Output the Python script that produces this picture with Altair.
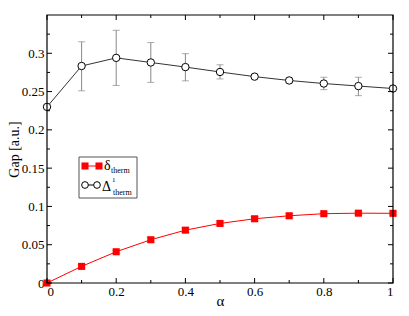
import altair as alt
import pandas as pd

alpha = [0.0, 0.1, 0.2, 0.3, 0.4, 0.5, 0.6, 0.7, 0.8, 0.9, 1.0]
delta_therm = [0.0, 0.0217, 0.0408, 0.0565, 0.069, 0.0778, 0.0839, 0.0878, 0.0905, 0.0912, 0.0910]
delta_err = [0.001, 0.002, 0.002, 0.003, 0.003, 0.003, 0.003, 0.003, 0.002, 0.002, 0.002]
Delta1_therm = [0.230, 0.2834, 0.294, 0.288, 0.282, 0.2756, 0.2695, 0.2645, 0.2605, 0.2572, 0.2540]
Delta1_lo = [0.230, 0.251, 0.258, 0.262, 0.264, 0.2665, 0.2675, 0.2615, 0.2525, 0.2447, 0.2540]
Delta1_hi = [0.230, 0.315, 0.330, 0.314, 0.2995, 0.285, 0.2715, 0.2675, 0.2687, 0.2687, 0.2540]

x_major = [0, 0.2, 0.4, 0.6, 0.8, 1.0]
x_minor = [0.1, 0.3, 0.5, 0.7, 0.9]
y_major = [0, 0.05, 0.1, 0.15, 0.2, 0.25, 0.3]
y_minor = [0.025, 0.075, 0.125, 0.175, 0.225, 0.275, 0.325]

W, H = 346, 268
FONT = "Liberation Serif, Times New Roman, Times, serif"

df = pd.DataFrame({
    "alpha": alpha,
    "d": delta_therm,
    "d_lo": [a - b for a, b in zip(delta_therm, delta_err)],
    "d_hi": [a + b for a, b in zip(delta_therm, delta_err)],
    "D": Delta1_therm,
    "D_lo": Delta1_lo,
    "D_hi": Delta1_hi,
})

xs = alt.Scale(domain=[0, 1], nice=False, zero=False)
ys = alt.Scale(domain=[0, 0.35], nice=False, zero=False)

xenc = alt.X("alpha:Q", scale=xs, axis=alt.Axis(values=x_major, tickSize=0, labelFont=FONT,
             labelFontSize=13, labelColor="black", title="α", titleFont=FONT, titleFontSize=15,
             titleFontWeight="normal", titleColor="black", domain=False, grid=False, labelPadding=2,
             labelBaseline="top", titleY=22, titleBaseline="alphabetic",
             labelExpr="datum.value == 1 ? '1' : (datum.value == 0 ? '0' : datum.label)"))
yaxis = alt.Axis(values=y_major, tickSize=0, labelFont=FONT, labelFontSize=13, labelColor="black",
                 title="Gap [a.u.]", titleFont=FONT, titleFontSize=14, titleFontWeight="normal",
                 titleColor="black", domain=False, grid=False, labelPadding=3,
                 titleX=-29, titleY=H / 2, titleBaseline="alphabetic",
                 labelExpr="datum.value == 0 ? '0' : format(datum.value, '.3~f')")

base = alt.Chart(df)

D_err = base.mark_rule(color="#888888", strokeWidth=1).encode(
    x=xenc, y=alt.Y("D_lo:Q", scale=ys, axis=yaxis), y2="D_hi:Q")
D_cap_hi = base.mark_tick(color="#888888", thickness=1, size=7, orient="horizontal").encode(
    x=alt.X("alpha:Q", scale=xs), y=alt.Y("D_hi:Q", scale=ys))
D_cap_lo = base.mark_tick(color="#888888", thickness=1, size=7, orient="horizontal").encode(
    x=alt.X("alpha:Q", scale=xs), y=alt.Y("D_lo:Q", scale=ys))
D_line = base.mark_line(color="black", strokeWidth=0.8).encode(
    x=alt.X("alpha:Q", scale=xs), y=alt.Y("D:Q", scale=ys))
D_pts = base.mark_point(shape="circle", filled=True, fill="white", stroke="black",
                        strokeWidth=1, size=55, opacity=1).encode(
    x=alt.X("alpha:Q", scale=xs), y=alt.Y("D:Q", scale=ys))

d_err = base.mark_rule(color="#ff9999", strokeWidth=1).encode(
    x=alt.X("alpha:Q", scale=xs), y=alt.Y("d_lo:Q", scale=ys), y2="d_hi:Q")
d_cap_hi = base.mark_tick(color="#ff9999", thickness=1, size=9, orient="horizontal").encode(
    x=alt.X("alpha:Q", scale=xs), y=alt.Y("d_hi:Q", scale=ys))
d_cap_lo = base.mark_tick(color="#ff9999", thickness=1, size=9, orient="horizontal").encode(
    x=alt.X("alpha:Q", scale=xs), y=alt.Y("d_lo:Q", scale=ys))
d_line = base.mark_line(color="#ff0000", strokeWidth=1).encode(
    x=alt.X("alpha:Q", scale=xs), y=alt.Y("d:Q", scale=ys))
d_pts = base.mark_square(color="#ff0000", size=50, opacity=1).encode(
    x=alt.X("alpha:Q", scale=xs), y=alt.Y("d:Q", scale=ys))

def xticks(vals, L):
    t = pd.DataFrame({"v": vals})
    b = alt.Chart(t).mark_rule(color="black", strokeWidth=1).encode(
        x=alt.X("v:Q", scale=xs), y=alt.value(H), y2=alt.value(H - L))
    tp = alt.Chart(t).mark_rule(color="black", strokeWidth=1).encode(
        x=alt.X("v:Q", scale=xs), y=alt.value(0), y2=alt.value(L))
    return b + tp

def yticks(vals, L):
    t = pd.DataFrame({"v": vals})
    l = alt.Chart(t).mark_rule(color="black", strokeWidth=1).encode(
        y=alt.Y("v:Q", scale=ys), x=alt.value(0), x2=alt.value(L))
    r = alt.Chart(t).mark_rule(color="black", strokeWidth=1).encode(
        y=alt.Y("v:Q", scale=ys), x=alt.value(W), x2=alt.value(W - L))
    return l + r

one = pd.DataFrame({"k": [0]})
frame = alt.Chart(one).mark_rect(fill=None, stroke="black", strokeWidth=1.2).encode(
    x=alt.value(0), x2=alt.value(W), y=alt.value(0), y2=alt.value(H))

leg_box = alt.Chart(one).mark_rect(fill="white", stroke="#555555", strokeWidth=1).encode(
    x=alt.value(32), x2=alt.value(90), y=alt.value(142), y2=alt.value(183))
leg_l1 = alt.Chart(one).mark_rule(color="#ff0000", strokeWidth=1).encode(
    x=alt.value(38), x2=alt.value(52), y=alt.value(151))
leg_s1 = alt.Chart(pd.DataFrame({"px": [38, 52]})).mark_square(color="#ff0000", size=50, opacity=1).encode(
    x=alt.X("px:Q", scale=None), y=alt.value(151))
leg_l2 = alt.Chart(one).mark_rule(color="black", strokeWidth=1).encode(
    x=alt.value(38), x2=alt.value(50), y=alt.value(170))
leg_s2 = alt.Chart(pd.DataFrame({"px": [38, 50]})).mark_point(shape="circle", filled=True, fill="white",
    stroke="black", strokeWidth=1, size=45, opacity=1).encode(
    x=alt.X("px:Q", scale=None), y=alt.value(170))

def txt(s, x, y, size):
    return alt.Chart(pd.DataFrame({"t": [s]})).mark_text(font=FONT, fontSize=size, color="black",
        align="left", baseline="alphabetic").encode(text="t:N", x=alt.value(x), y=alt.value(y))

leg_t = (txt("δ", 57, 155, 14) + txt("therm", 64, 158, 8) +
         txt("Δ", 55, 176, 14) + txt("1", 65, 167, 7) + txt("therm", 66, 180, 8))

chart = alt.layer(
    D_err, D_cap_hi, D_cap_lo, D_line, D_pts,
    d_err, d_cap_hi, d_cap_lo, d_line, d_pts,
    xticks(x_major, 5), xticks(x_minor, 3), yticks(y_major, 5), yticks(y_minor, 3),
    frame, leg_box, leg_l1, leg_s1, leg_l2, leg_s2, leg_t
).properties(
    width=W, height=H,
    autosize=alt.AutoSizeParams(type="none"),
    padding={"left": 39, "top": 7, "right": 8, "bottom": 26},
).configure_view(stroke=None)

chart.save("out.html", embed_options={"renderer": "svg", "actions": False})
